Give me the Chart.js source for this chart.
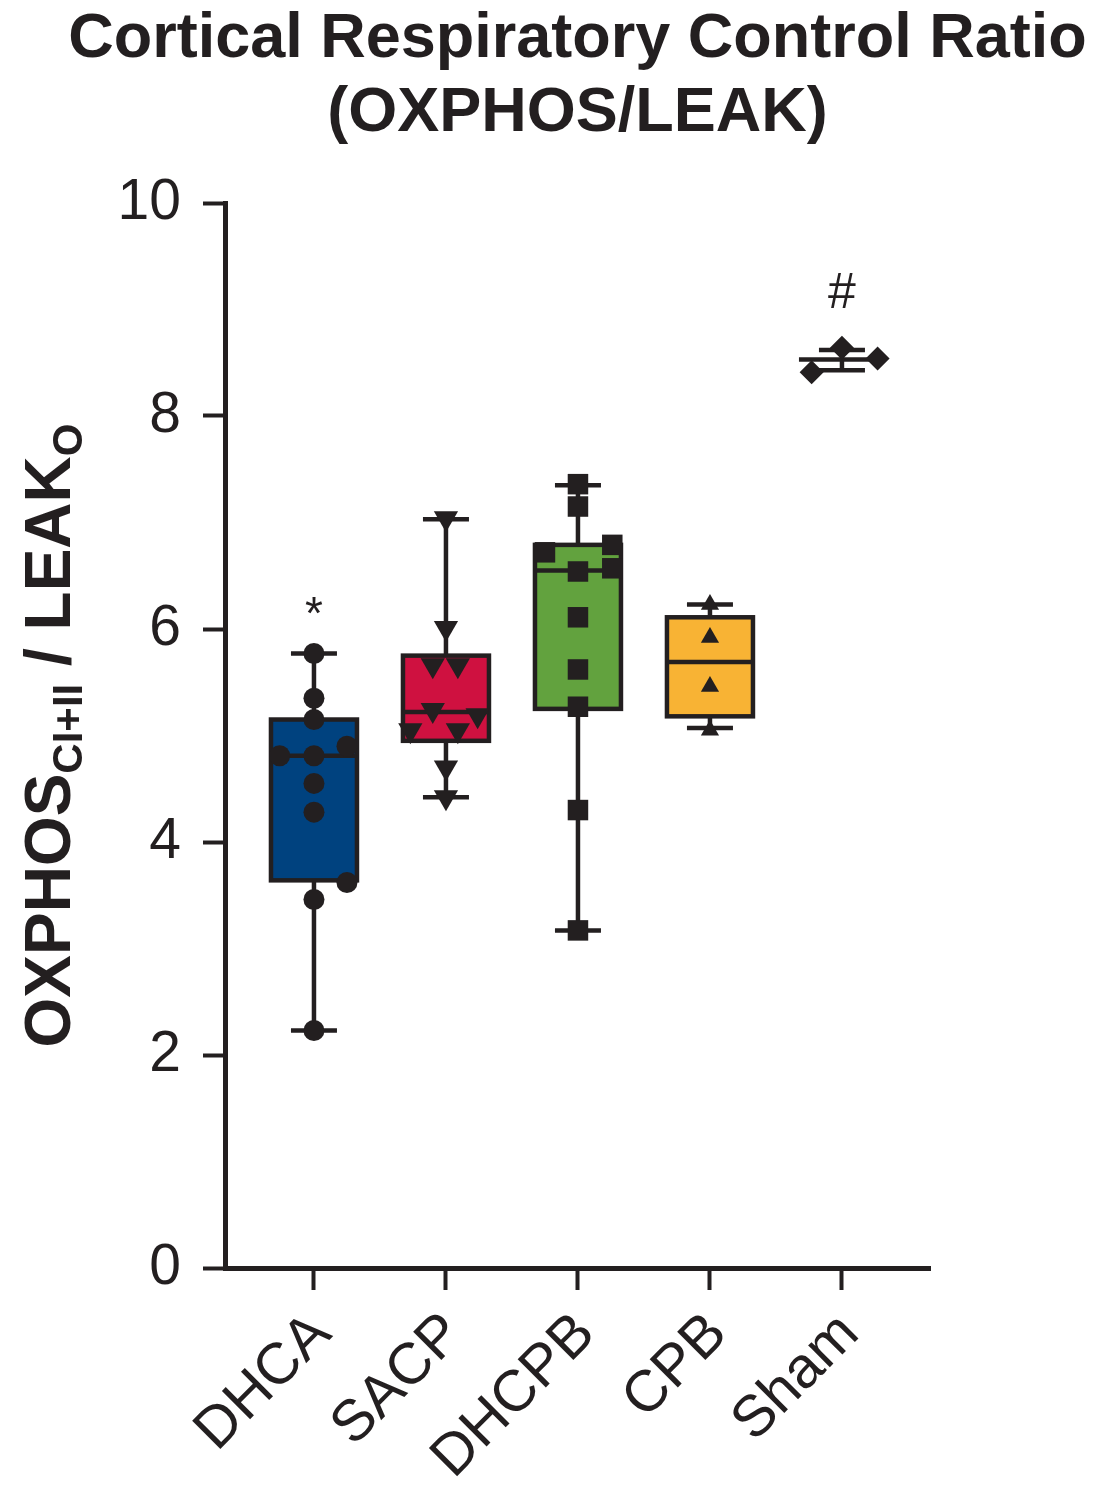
<!DOCTYPE html>
<html>
<head>
<meta charset="utf-8">
<script src="https://cdn.jsdelivr.net/npm/chart.js@4.4.1/dist/chart.umd.min.js"></script>
<style>
  html, body { margin: 0; padding: 0; background: #fff; }
</style>
</head>
<body>
<canvas id="rcr-chart" width="1096" height="1500"></canvas>
<script>
// Cortical RCR (OXPHOS/LEAK) - box & whisker com pontos individuais

const groups = ['DHCA', 'SACP', 'DHCPB', 'CPB', 'Sham'];
const yTicks = [0, 2, 4, 6, 8, 10];
const titleLines = ['Cortical Respiratory Control Ratio', '(OXPHOS/LEAK)'];

// estatísticas das caixas
const whiskerLow  = [2.23, 4.42, 3.17, 5.07, 8.43];
const q1          = [3.64, 4.95, 5.25, 5.18, 8.53];
const median      = [4.81, 5.22, 6.55, 5.69, 8.53];
const q3          = [5.15, 5.75, 6.79, 6.11, 8.53];
const whiskerHigh = [5.77, 7.03, 7.35, 6.23, 8.62];

// pontos individuais + deslocamento horizontal (em unidades de categoria)
const dhcaVals  = [5.77, 5.35, 5.15, 4.81, 4.81, 4.90, 4.55, 4.28, 3.62, 3.46, 2.23];
const dhcaJit   = [0, 0, 0, -0.26, 0, 0.25, 0, 0, 0.25, 0, 0];
const sacpVals  = [7.04, 6.01, 5.66, 5.66, 5.24, 5.19, 5.05, 5.05, 4.70, 4.42];
const sacpJit   = [0, 0, -0.10, 0.09, -0.10, 0.24, -0.27, 0.09, 0, 0];
const dhcpbVals = [7.36, 7.15, 6.72, 6.79, 6.54, 6.57, 6.11, 5.62, 5.27, 4.30, 3.17];
const dhcpbJit  = [0, 0, -0.25, 0.26, 0, 0.26, 0, 0, 0, 0, 0];
const cpbVals   = [6.23, 5.92, 5.46, 5.05];
const cpbJit    = [0, 0, 0, 0];
const shamVals  = [8.64, 8.54, 8.41];
const shamJit   = [0, 0.27, -0.23];

// marcas de significância
const sigLabels = ['*', '', '', '', '#'];
const sigY      = [6.12, null, null, null, 9.14];

const INK = '#231f20';
const boxColors = ['#00427f', '#cf1140', '#62a23e', '#f8b334', null];
const FONT = '"Liberation Sans", Arial, Helvetica, sans-serif';
const BOX_W = 86;
const CAP_W = 46;

function toPoints(vals, jit, idx) {
  return vals.map((v, k) => ({ x: idx + jit[k], y: v }));
}

const boxPlugin = {
  id: 'boxWhisker',
  beforeDatasetsDraw(chart) {
    const { ctx, scales: { x, y } } = chart;
    ctx.save();
    ctx.strokeStyle = INK;
    ctx.lineWidth = 4.5;
    groups.forEach((g, i) => {
      const cx = x.getPixelForValue(i);
      const yLo = y.getPixelForValue(whiskerLow[i]);
      const yHi = y.getPixelForValue(whiskerHigh[i]);
      const yQ1 = y.getPixelForValue(q1[i]);
      const yQ3 = y.getPixelForValue(q3[i]);
      const yMed = y.getPixelForValue(median[i]);
      // bigode vertical
      ctx.beginPath();
      ctx.moveTo(cx, yHi);
      ctx.lineTo(cx, yLo);
      ctx.stroke();
      // tampas
      ctx.beginPath();
      ctx.moveTo(cx - CAP_W / 2, yHi); ctx.lineTo(cx + CAP_W / 2, yHi);
      ctx.moveTo(cx - CAP_W / 2, yLo); ctx.lineTo(cx + CAP_W / 2, yLo);
      ctx.stroke();
      // caixa
      if (boxColors[i]) {
        ctx.fillStyle = boxColors[i];
        ctx.fillRect(cx - BOX_W / 2, yQ3, BOX_W, yQ1 - yQ3);
        ctx.strokeRect(cx - BOX_W / 2, yQ3, BOX_W, yQ1 - yQ3);
      }
      // mediana
      ctx.beginPath();
      ctx.moveTo(cx - BOX_W / 2, yMed);
      ctx.lineTo(cx + BOX_W / 2, yMed);
      ctx.stroke();
    });
    ctx.restore();
  },
  afterDatasetsDraw(chart) {
    const { ctx, scales: { x, y } } = chart;
    ctx.save();
    ctx.fillStyle = INK;
    ctx.textAlign = 'center';
    ctx.textBaseline = 'middle';
    sigLabels.forEach((s, i) => {
      if (!s) return;
      ctx.font = (s === '#' ? '50px ' : '46px ') + FONT;
      ctx.fillText(s, x.getPixelForValue(i), y.getPixelForValue(sigY[i]));
    });
    ctx.restore();
  },
  afterDraw(chart) {
    const { ctx, chartArea } = chart;
    ctx.save();
    ctx.fillStyle = INK;

    // título (duas linhas, centrado sobre a área do gráfico)
    ctx.font = 'bold 63px ' + FONT;
    ctx.textAlign = 'center';
    ctx.textBaseline = 'middle';
    const cxTitle = (chartArea.left + chartArea.right) / 2;
    titleLines.forEach((t, k) => ctx.fillText(t, cxTitle, 40 + k * 74));

    // título do eixo Y com subscritos
    const parts = [
      { t: 'OXPHOS', sub: false },
      { t: 'CI+II', sub: true },
      { t: ' / LEAK', sub: false },
      { t: 'O', sub: true }
    ];
    const big = 'bold 64px ' + FONT;
    const small = 'bold 42px ' + FONT;
    let total = 0;
    parts.forEach(p => { ctx.font = p.sub ? small : big; p.w = ctx.measureText(p.t).width; total += p.w; });
    ctx.translate(70, (chartArea.top + chartArea.bottom) / 2);
    ctx.rotate(-Math.PI / 2);
    ctx.textAlign = 'left';
    ctx.textBaseline = 'alphabetic';
    let pos = -total / 2;
    parts.forEach(p => {
      ctx.font = p.sub ? small : big;
      ctx.fillText(p.t, pos, p.sub ? 12 : 0);
      pos += p.w;
    });
    ctx.restore();
  }
};

const ctx = document.getElementById('rcr-chart').getContext('2d');

new Chart(ctx, {
  type: 'scatter',
  data: {
    datasets: [
      { label: 'DHCA', data: toPoints(dhcaVals, dhcaJit, 0), pointStyle: 'circle', pointRadius: 10.5 },
      { label: 'SACP', data: toPoints(sacpVals, sacpJit, 1), pointStyle: 'triangle', rotation: 180, pointRadius: 14 },
      { label: 'DHCPB', data: toPoints(dhcpbVals, dhcpbJit, 2), pointStyle: 'rect', pointRadius: 14.5 },
      { label: 'CPB', data: toPoints(cpbVals, cpbJit, 3), pointStyle: 'triangle', pointRadius: 10.5 },
      { label: 'Sham', data: toPoints(shamVals, shamJit, 4), pointStyle: 'rectRot', pointRadius: 12 }
    ].map(d => Object.assign(d, {
      backgroundColor: INK,
      borderColor: INK,
      borderWidth: 0,
      pointHoverRadius: d.pointRadius
    }))
  },
  options: {
    responsive: false,
    animation: false,
    devicePixelRatio: 1,
    layout: { padding: { top: 203, right: 166, bottom: 0, left: 0 } },
    plugins: {
      legend: { display: false },
      tooltip: { enabled: false },
      title: { display: false }
    },
    scales: {
      x: {
        type: 'linear',
        min: -0.674,
        max: 4.667,
        afterBuildTicks: (scale) => { scale.ticks = groups.map((g, i) => ({ value: i })); },
        afterFit: (scale) => { scale.height = 232; },
        border: { display: true, width: 5, color: INK },
        grid: { drawOnChartArea: false, drawTicks: true, tickLength: 22, tickWidth: 4, tickColor: INK },
        ticks: {
          autoSkip: false,
          minRotation: 45,
          maxRotation: 45,
          padding: 10,
          labelOffset: 8,
          color: INK,
          font: { family: FONT, size: 58 },
          callback: (v) => groups[v]
        }
      },
      y: {
        min: 0,
        max: 10,
        afterBuildTicks: (scale) => { scale.ticks = yTicks.map(v => ({ value: v })); },
        afterFit: (scale) => { scale.width = 225; },
        border: { display: true, width: 5, color: INK },
        grid: { drawOnChartArea: false, drawTicks: true, tickLength: 22, tickWidth: 4, tickColor: INK },
        ticks: {
          padding: 22,
          color: INK,
          font: { family: FONT, size: 57 }
        }
      }
    }
  },
  plugins: [boxPlugin]
});
</script>
</body>
</html>
